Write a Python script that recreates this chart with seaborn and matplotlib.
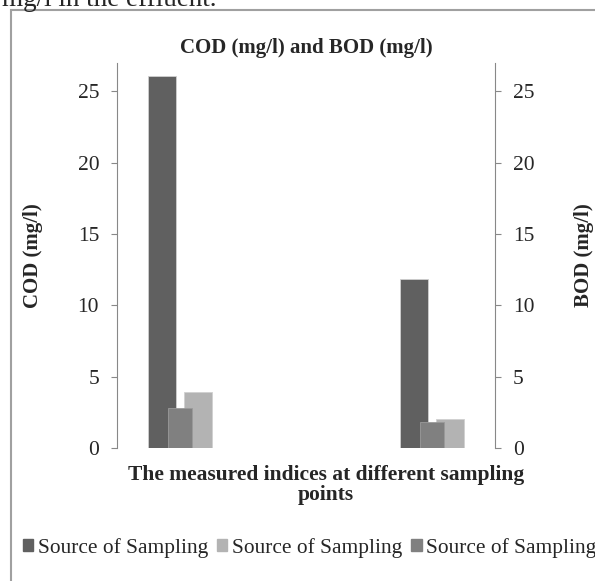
import pandas as pd
import numpy as np
import matplotlib.pyplot as plt
import seaborn as sns
from matplotlib.patches import Rectangle, Patch

# Data (middle sampling point has no bars)
points = ['Point 1', 'Point 2', 'Point 3']
cod_a = [26.1, np.nan, 11.85]   # dark bars, left axis
cod_b = [3.9, np.nan, 2.05]     # light bars, left axis
bod = [2.8, np.nan, 1.8]        # medium bars, right axis
legend_labels = ['Source of Sampling', 'Source of Sampling', 'Source of Sampling']

dark, light, medium = '#606060', '#b3b3b3', '#808080'

sns.set_style('white')
plt.rcParams['font.family'] = ['Liberation Serif', 'DejaVu Serif']

df_cod = pd.DataFrame({
    'point': points * 2,
    'series': ['a'] * 3 + ['b'] * 3,
    'value': cod_a + cod_b,
})
df_bod = pd.DataFrame({'point': points, 'value': bod})

fig = plt.figure(figsize=(5.95, 5.81), dpi=100)
ax = fig.add_axes([0.197, 0.229, 0.635, 0.663])

sns.barplot(data=df_cod, x='point', y='value', hue='series', order=points,
            hue_order=['a', 'b'], palette=[dark, light], width=0.572, gap=0.22,
            saturation=1, errorbar=None, legend=False, ax=ax,
            edgecolor='#d0d0d0', linewidth=0.6)
ax2 = ax.twinx()
sns.barplot(data=df_bod, x='point', y='value', order=points, color=medium,
            width=0.19, saturation=1, errorbar=None, ax=ax2,
            edgecolor='#9a9a9a', linewidth=0.6)

for a in (ax, ax2):
    a.set_ylim(0, 27)
    a.set_yticks([0, 5, 10, 15, 20, 25])
    a.set_xlim(-0.5, 2.5)
    for s in ('top', 'bottom'):
        a.spines[s].set_visible(False)
    a.tick_params(axis='x', length=0, labelbottom=False)
    a.tick_params(axis='y', labelsize=15.5, length=4.5, color='#888888', width=0.8, pad=8.5)
ax.spines['left'].set_color('#888888')
ax.spines['right'].set_visible(False)
ax2.spines['left'].set_visible(False)
ax2.spines['right'].set_color('#888888')
ax.yaxis.set_ticks_position('left')
ax2.yaxis.set_ticks_position('right')

ax.set_xlabel('The measured indices at different sampling\npoints', fontsize=15.5,
              fontweight='bold', linespacing=1.0)
ax.xaxis.set_label_coords(0.553, -0.045)
ax.xaxis.label.set_va('top')
ax.set_ylabel('COD (mg/l)', fontsize=15, fontweight='bold', labelpad=25)
ax2.set_ylabel('BOD (mg/l)', fontsize=15, fontweight='bold', labelpad=28)
ax.set_title('COD (mg/l) and BOD (mg/l)', fontsize=15, fontweight='bold', pad=7)
ax.patch.set_alpha(0)

handles = [Patch(color=c) for c in (dark, light, medium)]
fig.legend(handles, legend_labels, loc='center', bbox_to_anchor=(0.52, 0.057),
           ncol=3, frameon=False, fontsize=15.4, handlelength=0.5, handleheight=0.5,
           handletextpad=0.2, columnspacing=0.42)

# outer chart frame and the cut-off line of page text above it
fig.patches.append(Rectangle((11 / 595, -0.1), 1.0, 1 - 10 / 581 + 0.1,
                             transform=fig.transFigure, fill=False,
                             edgecolor='#a0a0a0', linewidth=1.5))
fig.text(0.004, 1 - 6 / 581, 'mg/l in the effluent.', fontsize=19.5, va='baseline', ha='left')

fig.savefig('out.png', dpi=100)
